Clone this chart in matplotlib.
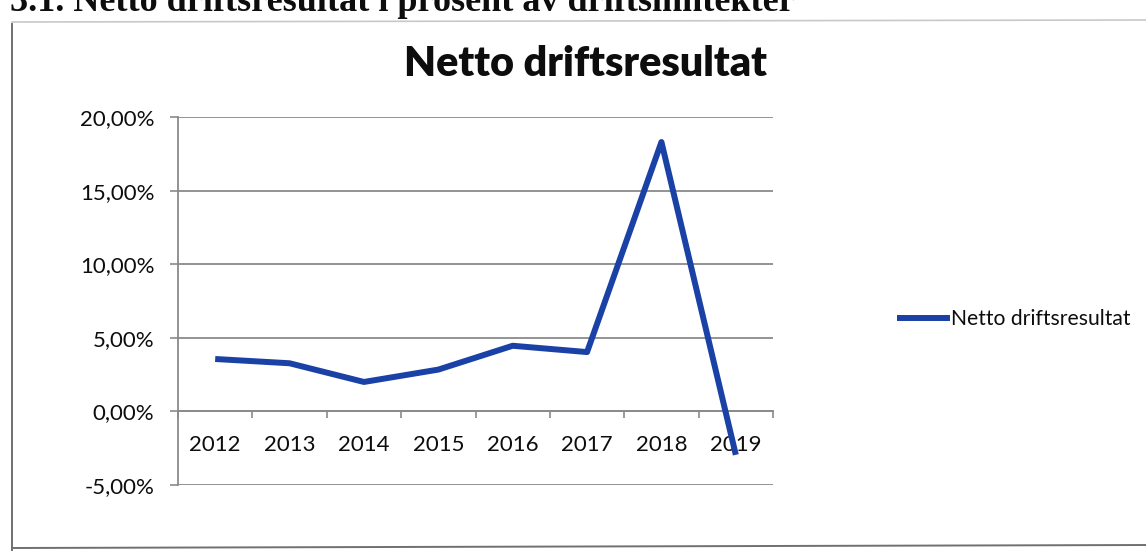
import matplotlib
matplotlib.use("Agg")
import matplotlib.pyplot as plt
from matplotlib.lines import Line2D
from matplotlib.ticker import FuncFormatter, FixedLocator

# Netto driftsresultat i prosent av driftsinntekter, 2012-2019
years = ["2012", "2013", "2014", "2015", "2016", "2017", "2018", "2019"]
netto = [3.56, 3.27, 2.00, 2.84, 4.46, 4.03, 18.30, -2.95]
y_ticks = [-5, 0, 5, 10, 15, 20]

W, H = 1146, 551
LINE_BLUE = "#1a41a6"
GRID = "#8a8a8a"
INK = "#0d0d0d"

plt.rcParams["font.family"] = ["Lato", "DejaVu Sans"]

fig = plt.figure(figsize=(W / 100, H / 100), dpi=100)
fig.patch.set_facecolor("white")

# plot area in pixel terms -> figure fractions
ax = fig.add_axes([178 / W, 66 / H, 595 / W, 368 / H])
ax.set_facecolor("none")

x = list(range(len(years)))
ax.plot(x, netto, color=LINE_BLUE, lw=4.3, solid_joinstyle="round",
        solid_capstyle="butt", zorder=3, label="Netto driftsresultat")

ax.set_xlim(-0.5, len(years) - 0.5)
ax.set_ylim(-5, 20)

# y axis: percent labels with comma decimals
ax.yaxis.set_major_locator(FixedLocator(y_ticks))
ax.yaxis.set_major_formatter(FuncFormatter(lambda v, _: f"{v:.2f}%".replace(".", ",")))
ax.yaxis.grid(True, color=GRID, lw=1.3)
ax.set_axisbelow(True)
ax.tick_params(axis="y", length=6, width=1.2, color=GRID, pad=11,
               labelsize=16, labelcolor=INK)

# category axis crosses at 0, ticks between categories
ax.spines["bottom"].set_position(("data", 0))
ax.set_xticks(x)
ax.set_xticklabels(years)
ax.set_xticks([i - 0.5 for i in range(len(years) + 1)], minor=True)
ax.tick_params(axis="x", which="major", length=0, pad=17,
               labelsize=16, labelcolor=INK)
ax.tick_params(axis="x", which="minor", length=5, width=1.2, color=GRID,
               direction="out")

for side in ("top", "right"):
    ax.spines[side].set_visible(False)
for side in ("left", "bottom"):
    ax.spines[side].set_color(GRID)
    ax.spines[side].set_linewidth(1.3)

fig.text(586 / W, 1 - 64 / H, "Netto driftsresultat", ha="center", va="center",
         fontsize=29.8, fontweight="heavy", color=INK)

ax.legend(loc="center left", bbox_to_anchor=(897 / W, 1 - 319 / H),
          bbox_transform=fig.transFigure, frameon=False, fontsize=15.2,
          handlelength=2.5, handletextpad=0.08, borderpad=0, borderaxespad=0,
          labelcolor=INK)

# section heading above the chart box (runs off the top edge)
fig.text(10 / W, 1 - 11 / H, "3.1. Netto driftsresultat i prosent av driftsinntekter",
         ha="left", va="baseline", fontsize=26, fontweight="bold",
         family=["Liberation Serif", "DejaVu Serif"], color=INK)

# chart box outline
fig.add_artist(Line2D([12 / W, 1], [1 - 22 / H, 1 - 20 / H], transform=fig.transFigure,
                      color="#c8c8c8", lw=1.2))
fig.add_artist(Line2D([12 / W, 12 / W], [0, 1 - 24 / H], transform=fig.transFigure,
                      color="#707070", lw=1.4))
fig.add_artist(Line2D([12 / W, 1], [1 - 548 / H, 1 - 545 / H], transform=fig.transFigure,
                      color="#707070", lw=1.4))

fig.savefig("out.png", dpi=100, facecolor="white")
